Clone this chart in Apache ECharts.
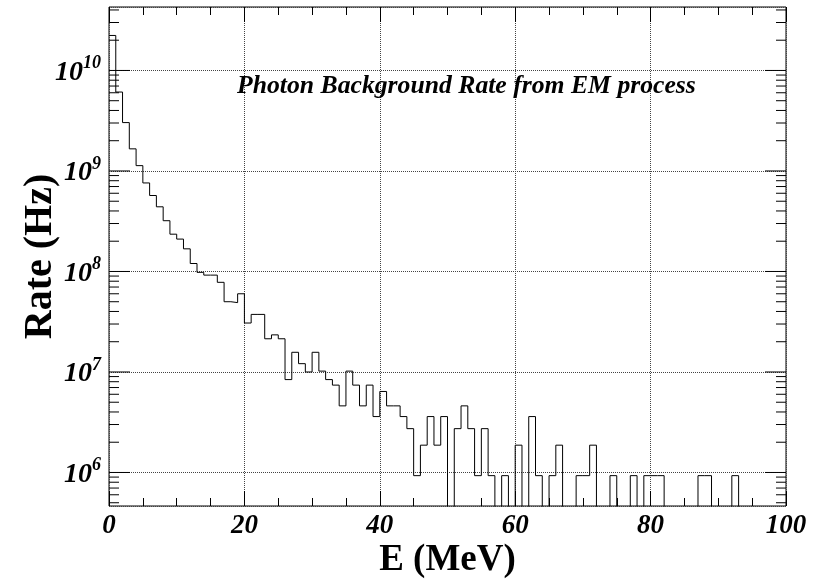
<!DOCTYPE html>
<html>
<head>
<meta charset="utf-8">
<script src="https://cdn.jsdelivr.net/npm/echarts@6/dist/echarts.min.js"></script>
<style>
  html, body { margin: 0; background: #fff; }
  #chart { width: 820px; height: 579px; }
</style>
</head>
<body>
<div id="chart"></div>
<script>
// histogram: 1 MeV bins from 0 to 100 MeV, rate in Hz (0 = empty bin)
var binLow = 0;
var binWidth = 1;
var rate = [
  2.23e10, 6.1e9, 3.03e9, 1.66e9, 1.13e9, 7.6e8, 5.7e8, 4.4e8, 3.2e8, 2.35e8,
  2.1e8, 1.68e8, 1.2e8, 9.8e7, 9.2e7, 9.2e7, 7.8e7, 5.0e7, 4.9e7, 6.0e7,
  3.07e7, 3.74e7, 3.74e7, 2.14e7, 2.34e7, 2.14e7, 8.4e6, 1.57e7, 1.21e7, 1.0e7,
  1.57e7, 1.02e7, 8.4e6, 7.4e6, 4.6e6, 1.02e7, 7.4e6, 4.6e6, 7.4e6, 3.6e6,
  6.4e6, 4.6e6, 4.6e6, 3.6e6, 2.73e6, 9.3e5, 1.87e6, 3.6e6, 1.87e6, 3.6e6,
  0, 2.73e6, 4.6e6, 2.73e6, 9.3e5, 2.73e6, 9.3e5, 0, 9.3e5, 0,
  1.87e6, 0, 3.6e6, 9.3e5, 0, 9.3e5, 1.87e6, 0, 0, 9.3e5,
  9.3e5, 1.87e6, 0, 0, 9.3e5, 0, 0, 9.3e5, 0, 9.3e5,
  9.3e5, 9.3e5, 0, 0, 0, 0, 0, 9.3e5, 9.3e5, 0,
  0, 0, 9.3e5, 0, 0, 0, 0, 0, 0, 0
];

var xMin = 0, xMax = 100, xStep = 20;
var yMin = 4.64e5, yMax = 4.28e10;
var yDecades = [5, 6, 7, 8, 9, 10];
var yTickMult = [1, 2, 3, 4, 5, 6, 7, 8, 9];
var emptyFloor = 1e5; // empty bins drop below the frame

var titleText = 'Photon Background Rate from EM process';
var xName = 'E (MeV)';
var yName = 'Rate (Hz)';

var histData = rate.map(function (v, i) {
  return [binLow + i * binWidth, v > 0 ? v : emptyFloor];
});
var last = rate[rate.length - 1];
histData.push([binLow + rate.length * binWidth, last > 0 ? last : emptyFloor]);

// log-axis ticks like ROOT: long at decades, short at 2..9
var yTicks = [];
yDecades.forEach(function (d) {
  yTickMult.forEach(function (k) {
    var v = k * Math.pow(10, d);
    if (v >= yMin && v <= yMax) yTicks.push([xMin, v, k === 1 ? 1 : 0]);
  });
});

var serif = "'Liberation Serif', 'Times New Roman', serif";

var chart = echarts.init(document.getElementById('chart'));

var xAxisBase = {
  type: 'value',
  min: xMin,
  max: xMax,
  interval: xStep,
  axisLine: { show: false },
  axisTick: { show: true, inside: true, length: 15, lineStyle: { color: '#000', width: 1 } },
  minorTick: { show: true, splitNumber: 4, length: 8, lineStyle: { color: '#000', width: 1 } },
  splitLine: { show: false }
};

var option = {
  animation: false,
  backgroundColor: '#fff',
  title: {
    text: titleText,
    left: 232,
    top: 68,
    textStyle: {
      fontFamily: serif,
      fontSize: 25.7,
      fontWeight: 'bold',
      fontStyle: 'italic',
      color: '#000'
    }
  },
  grid: {
    left: 109,
    right: 34,
    top: 7,
    bottom: 73,
    outerBoundsMode: 'none',
    containLabel: false,
    show: true,
    borderColor: '#000',
    borderWidth: 1,
    backgroundColor: 'transparent'
  },
  xAxis: [
    Object.assign({}, xAxisBase, {
      position: 'bottom',
      name: xName,
      nameLocation: 'middle',
      nameGap: 36,
      nameMoveOverlap: false,
      nameTextStyle: { fontFamily: serif, fontSize: 37, fontWeight: 'bold', color: '#000' },
      axisLabel: {
        margin: 7,
        fontFamily: serif,
        fontSize: 27,
        fontWeight: 'bold',
        fontStyle: 'italic',
        color: '#000'
      },
      splitLine: { show: true, lineStyle: { type: 'dotted', color: '#444', width: 1 } }
    }),
    Object.assign({}, xAxisBase, {
      position: 'top',
      axisLabel: { show: false }
    })
  ],
  yAxis: {
    type: 'log',
    logBase: 10,
    min: yMin,
    max: yMax,
    name: yName,
    nameLocation: 'middle',
    nameGap: 48,
    nameMoveOverlap: false,
    nameRotate: 90,
    nameTextStyle: { fontFamily: serif, fontSize: 40, fontWeight: 'bold', color: '#000' },
    axisLine: { show: false },
    axisTick: { show: false },
    splitLine: { show: true, lineStyle: { type: 'dotted', color: '#444', width: 1 } },
    axisLabel: {
      margin: 8,
      formatter: function (v) {
        var e = Math.log(v) / Math.LN10;
        if (Math.abs(e - Math.round(e)) > 1e-6) return '';
        return '{m|10}{s|' + Math.round(e) + '}';
      },
      rich: {
        m: {
          fontFamily: serif, fontSize: 28, fontWeight: 'bold', fontStyle: 'italic',
          color: '#000', lineHeight: 32, verticalAlign: 'bottom'
        },
        s: {
          fontFamily: serif, fontSize: 18, fontWeight: 'bold', fontStyle: 'italic',
          color: '#000', lineHeight: 18, verticalAlign: 'top'
        }
      }
    }
  },
  series: [
    {
      type: 'line',
      step: 'end',
      data: histData,
      symbol: 'none',
      clip: true,
      lineStyle: { color: '#000', width: 1 },
      silent: true
    },
    {
      type: 'custom',
      data: yTicks,
      silent: true,
      renderItem: function (params, api) {
        var v = api.value(1);
        var len = api.value(2) ? 21 : 10;
        var l = api.coord([xMin, v]);
        var r = api.coord([xMax, v]);
        return {
          type: 'group',
          children: [
            { type: 'line', shape: { x1: l[0], y1: l[1], x2: l[0] + len, y2: l[1] }, style: { stroke: '#000', lineWidth: 1 } },
            { type: 'line', shape: { x1: r[0], y1: r[1], x2: r[0] - len, y2: r[1] }, style: { stroke: '#000', lineWidth: 1 } }
          ]
        };
      }
    }
  ]
};

chart.setOption(option);
</script>
</body>
</html>
